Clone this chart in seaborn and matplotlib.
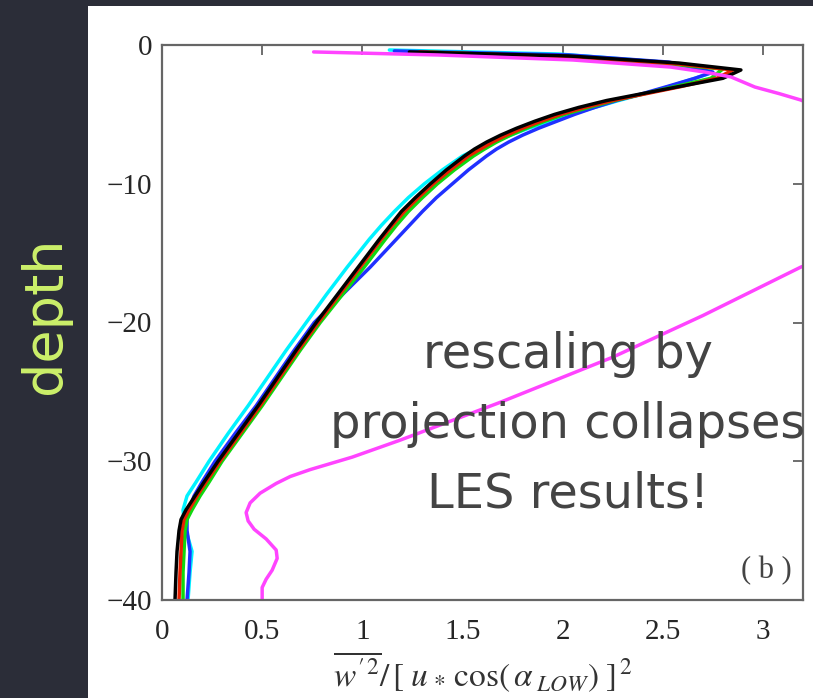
import numpy as np
import pandas as pd
import matplotlib
matplotlib.use("Agg")
import matplotlib.pyplot as plt
from matplotlib.patches import Rectangle
import seaborn as sns

# ---- data ----
# shared depth levels of the lower (returning) branch of the LES profiles
lower_depth = [-2.4, -3.0, -3.5, -4.0, -4.5, -5.0, -5.5, -6.0, -6.5, -7.0, -7.5, -8.0,
               -9.0, -10.0, -11.0, -12.0, -13.0, -14.0, -16.0, -18.0, -20.0, -22.0,
               -24.0, -26.0, -28.0, -30.0, -31.5, -32.5, -33.5, -34.2, -35.0, -36.5,
               -38.0, -40.0]

black_top_z = [-0.50, -0.79, -1.30, -1.80]
black_top_x = [1.235, 2.03, 2.58, 2.89]
black_low_x = [2.80, 2.58, 2.40, 2.22, 2.08, 1.96, 1.86, 1.77, 1.69, 1.62, 1.56, 1.51,
               1.42, 1.34, 1.265, 1.195, 1.14, 1.085, 0.98, 0.875, 0.77, 0.67,
               0.575, 0.48, 0.38, 0.28, 0.21, 0.165, 0.12, 0.095, 0.085, 0.075,
               0.07, 0.065]

red_top_z = [-0.50, -0.87, -1.37, -1.80]
red_top_x = [1.285, 2.06, 2.58, 2.85]
red_low_x = [2.77, 2.59, 2.42, 2.25, 2.11, 1.99, 1.89, 1.80, 1.72, 1.65, 1.59, 1.53,
             1.44, 1.355, 1.28, 1.21, 1.15, 1.095, 0.99, 0.885, 0.78, 0.68,
             0.585, 0.49, 0.39, 0.29, 0.22, 0.175, 0.135, 0.11, 0.10, 0.095,
             0.09, 0.085]

green_top_z = [-0.50, -0.94, -1.44, -1.73]
green_top_x = [1.335, 2.08, 2.58, 2.80]
green_low_x = [2.74, 2.56, 2.41, 2.26, 2.13, 2.01, 1.91, 1.82, 1.74, 1.67, 1.61, 1.555,
               1.46, 1.375, 1.30, 1.23, 1.17, 1.115, 1.01, 0.90, 0.79, 0.69,
               0.595, 0.50, 0.40, 0.30, 0.235, 0.19, 0.15, 0.125, 0.115, 0.11,
               0.105, 0.105]

blue_top_z = [-0.43, -0.72, -1.23, -1.95]
blue_top_x = [1.16, 2.03, 2.53, 2.75]
blue_low_x = [2.66, 2.52, 2.40, 2.27, 2.16, 2.06, 1.97, 1.88, 1.80, 1.73, 1.67, 1.62,
              1.53, 1.45, 1.37, 1.30, 1.235, 1.17, 1.04, 0.90, 0.76, 0.66,
              0.565, 0.47, 0.365, 0.265, 0.20, 0.16, 0.135, 0.125, 0.125, 0.14,
              0.135, 0.125]

cyan_top_z = [-0.36, -0.65, -1.23, -2.02]
cyan_top_x = [1.135, 1.98, 2.50, 2.74]
cyan_low_x = [2.66, 2.53, 2.41, 2.28, 2.16, 2.04, 1.94, 1.83, 1.74, 1.65, 1.57, 1.50,
              1.40, 1.31, 1.23, 1.16, 1.095, 1.035, 0.925, 0.82, 0.72, 0.62,
              0.525, 0.43, 0.33, 0.235, 0.17, 0.125, 0.105, 0.11, 0.12, 0.15,
              0.14, 0.13]

# simple model profile (magenta); leaves the frame between about -4 and -16
model_x = [0.757, 1.38, 2.05, 2.54, 2.71, 2.84, 2.96, 3.08, 3.19, 3.5, 3.8, 3.6,
           3.19, 2.70, 2.25, 1.68, 1.185, 0.95, 0.74, 0.64, 0.57, 0.49, 0.44, 0.42,
           0.43, 0.46, 0.52, 0.57, 0.575, 0.55, 0.52, 0.50, 0.50]
model_z = [-0.50, -0.72, -1.08, -1.59, -1.95, -2.30, -3.03, -3.5, -3.97, -6.0, -10.0, -14.0,
           -16.0, -19.5, -22.5, -25.8, -28.5, -29.7, -30.6, -31.1, -31.6, -32.3, -33.0, -33.7,
           -34.3, -34.9, -35.6, -36.4, -37.0, -37.85, -38.5, -39.1, -40.0]

xtick_vals = [0, 0.5, 1, 1.5, 2, 2.5, 3]
xtick_labels = ["0", "0.5", "1", "1.5", "2", "2.5", "3"]
ytick_vals = [0, -10, -20, -30, -40]
ytick_labels = ["0", "\u221210", "\u221220", "\u221230", "\u221240"]

runs = ["cyan", "blue", "green", "red", "black", "model"]
series = {
    "cyan": (cyan_top_x + cyan_low_x, cyan_top_z + lower_depth),
    "blue": (blue_top_x + blue_low_x, blue_top_z + lower_depth),
    "green": (green_top_x + green_low_x, green_top_z + lower_depth),
    "red": (red_top_x + red_low_x, red_top_z + lower_depth),
    "black": (black_top_x + black_low_x, black_top_z + lower_depth),
    "model": (model_x, model_z),
}
palette = {"cyan": "#00f2ff", "blue": "#2030ff", "green": "#10d810",
           "red": "#e82000", "black": "#000000", "model": "#ff44ff"}

frames = []
for r in runs:
    xs, zs = series[r]
    frames.append(pd.DataFrame({"val": xs, "depth": zs, "run": r}))
df = pd.concat(frames, ignore_index=True)

# ---- figure ----
sns.set_theme(style="white")
plt.rcParams["font.family"] = ["Liberation Serif", "DejaVu Serif"]
plt.rcParams["mathtext.fontset"] = "stix"

BG = "#2b2d38"
fig = plt.figure(figsize=(8.13, 6.98), dpi=100, facecolor=BG)
fig.patches.append(Rectangle((88 / 813, 0), 1 - 88 / 813, 1 - 6 / 698,
                             transform=fig.transFigure, facecolor="white",
                             edgecolor="none", zorder=-10))

ax = fig.add_axes([162 / 813, 1 - 600 / 698, 641 / 813, 555 / 698])
ax.set_facecolor("none")
ax.set_zorder(5)

sns.lineplot(data=df, x="val", y="depth", hue="run", hue_order=runs,
             palette=palette, sort=False, estimator=None, units="run",
             linewidth=2.5, legend=False, ax=ax)
for ln in ax.get_lines():
    ln.set_solid_joinstyle("round")
    ln.set_solid_capstyle("round")

ax.set_xlim(0, 3.2)
ax.set_ylim(-40, 0)
ax.set_xticks(xtick_vals)
ax.set_xticklabels(xtick_labels)
ax.set_yticks(ytick_vals)
ax.set_yticklabels(ytick_labels)
ax.set_xlabel(r"$\overline{w'^{2}}/\,[\;u_{\,*}\,\cos(\,\alpha_{\;LOW})\;]^{\,2}$",
              fontsize=24, color="#333333", labelpad=3)
ax.set_ylabel("")

for s in ax.spines.values():
    s.set_color("#666666")
    s.set_linewidth(1.6)
    s.set_visible(True)
ax.tick_params(axis="both", which="major", direction="in", length=7, width=1.2,
               color="#555555", top=True, right=True, labelsize=21,
               labelcolor="#262626")
ax.tick_params(axis="x", pad=14)
ax.tick_params(axis="y", pad=7)

ax.text(0.982, 0.04, "( b )", transform=ax.transAxes, ha="right", va="baseline",
        fontsize=22, color="#444444")

# annotation
ann_lines = ["rescaling by", "projection collapses", "LES results!"]
ann_base = [368, 438, 507]
for t, yb in zip(ann_lines, ann_base):
    fig.text(568 / 813, 1 - yb / 698, t, ha="center", va="baseline",
             fontsize=34.5, color="#444444", family=["DejaVu Sans"], zorder=10)

fig.text(45 / 813, 1 - 315 / 698, "depth", rotation=90, ha="center", va="center",
         fontsize=39, color="#ccf06a", family=["DejaVu Sans"])

fig.savefig("out.png", dpi=100, facecolor=BG)
